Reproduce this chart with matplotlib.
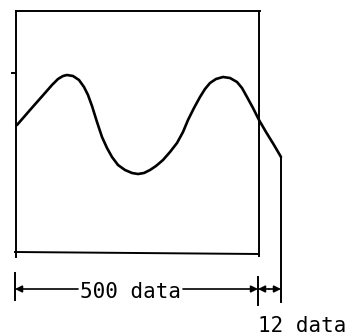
import matplotlib
matplotlib.use("Agg")
import matplotlib.pyplot as plt

# Waveform trace (pixel-like diagram coordinates, y grows downward)
curve_x = [17, 30, 45, 52, 58, 63, 67, 73, 79, 84, 88, 92, 97, 102, 107, 112, 118, 125,
           132, 138, 144, 150, 156, 163, 170, 177, 183, 188, 194, 200, 205, 210, 216,
           223, 230, 237, 242, 247, 253, 259, 266, 274, 281]
curve_y = [125, 110, 93, 85, 79, 76, 75, 76, 80, 87, 95, 106, 122, 137, 148, 157, 165, 170,
           173, 174, 173, 170, 166, 160, 152, 143, 132, 120, 108, 97, 89, 83, 79,
           77, 78, 82, 88, 97, 108, 120, 132, 145, 157]

labels = ["500 data", "12 data"]

W, H = 347, 335
fig = plt.figure(figsize=(W / 100, H / 100), dpi=100)
ax = fig.add_axes([0, 0, 1, 1])
ax.set_xlim(0, W)
ax.set_ylim(H, 0)
ax.axis("off")

lw_box = 1.4
lw_curve = 1.9
k = "black"

# Frame of the 500-data window
ax.plot([16, 260], [11, 11], color=k, lw=lw_box)
ax.plot([16, 16], [11, 257], color=k, lw=lw_box)
ax.plot([259, 259], [11, 256], color=k, lw=lw_box)
ax.plot([15, 259], [252, 254], color=k, lw=lw_box)
ax.plot([12, 16], [73, 73], color=k, lw=lw_box)

# Waveform
ax.plot(curve_x, curve_y, color=k, lw=lw_curve, solid_joinstyle="round",
        solid_capstyle="round")
ax.plot([curve_x[-1], curve_x[-1]], [curve_y[-1], 302], color=k, lw=lw_box)

# Dimension ticks
ax.plot([15, 15], [273, 300], color=k, lw=lw_box)
ax.plot([258, 258], [277, 305], color=k, lw=lw_box)

ydim = 289
ap = dict(arrowstyle="-|>", color=k, lw=1.2, mutation_scale=10, shrinkA=0, shrinkB=0)
ax.annotate("", xy=(15, ydim), xytext=(78, ydim), arrowprops=ap)
ax.annotate("", xy=(258, ydim), xytext=(183, ydim), arrowprops=ap)
ax.annotate("", xy=(258, ydim), xytext=(269, ydim), arrowprops=ap)
ax.annotate("", xy=(281, ydim), xytext=(269, ydim), arrowprops=ap)

ax.text(131, 297.5, labels[0], ha="center", va="baseline",
        family="DejaVu Sans Mono", fontsize=15, color=k)
ax.text(302, 331.5, labels[1], ha="center", va="baseline",
        family="DejaVu Sans Mono", fontsize=15, color=k)

fig.savefig("out.png", dpi=100, facecolor="white")
